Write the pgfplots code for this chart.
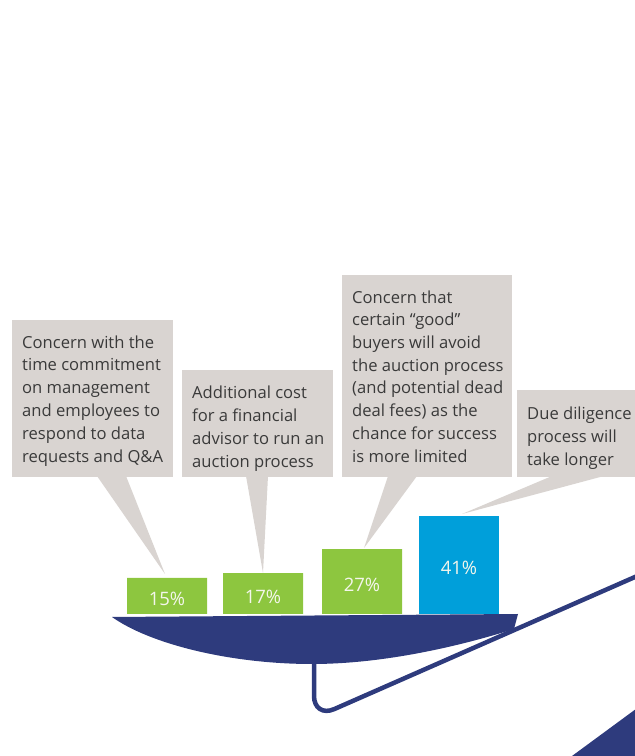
\documentclass[border=0pt]{standalone}
\usepackage{fontspec}
\setmainfont{Open Sans}
\usepackage{pgfplots}
\pgfplotsset{compat=1.18}
\usepackage{pgfplotstable}
\definecolor{boxgray}{HTML}{D9D4D1}
\definecolor{navy}{HTML}{2E3B7D}
\definecolor{dgreen}{HTML}{8DC63F}
\definecolor{dblue}{HTML}{009FDA}
\definecolor{txt}{HTML}{3A3A3A}
\definecolor{lbl}{HTML}{F4F6EC}

% bar centres (pixels across) and shares (%)
\pgfplotstableread{
x v
167 15
263 17
362 27
}\greenbars
\pgfplotstableread{
x v
459 41
}\bluebars
\pgfplotstableread{
x v
167 15
263 17
362 27
459 41
}\allbars

\newcommand\tl[3]{\node[anchor=base west, inner sep=0pt, font=\fontsize{16.6bp}{20bp}\selectfont, text=txt] at (#1,#2) {#3};}

\begin{document}
\begin{tikzpicture}
\useasboundingbox (0,0) rectangle (635bp,756bp);
% decorations: callout boxes, pointers, tray
\begin{axis}[at={(0,0)}, anchor=south west, scale only axis,
  width=635bp, height=756bp, xmin=0, xmax=635, ymin=0, ymax=756, hide axis]
\addplot[draw=none] coordinates {(0,0) (635,756)};
% boxes
\fill[boxgray] (12,279) rectangle (173,436);
\fill[boxgray] (182,279) rectangle (333,386);
\fill[boxgray] (342,279) rectangle (512,481);
\fill[boxgray] (517,279) rectangle (645,366);
% pointers
\fill[boxgray] (97,280) -- (126,280) -- (165,182) -- cycle;
\fill[boxgray] (246,280) -- (268,280) -- (263,183) -- cycle;
\fill[boxgray] (388,280) -- (417,280) -- (364,208) -- cycle;
\fill[boxgray] (552,280) -- (604,280) -- (462,242) -- cycle;
% texts
\tl{22}{407}{Concern with the}
\tl{22}{385}{time commitment}
\tl{22}{362}{on management}
\tl{22}{339}{and employees to}
\tl{22}{316}{respond to data}
\tl{22}{293}{requests and Q\&A}
\tl{192}{357}{Additional cost}
\tl{192}{334}{for a financial}
\tl{192}{311}{advisor to run an}
\tl{192}{288}{auction process}
\tl{352}{452}{Concern that}
\tl{352}{430}{certain “good”}
\tl{352}{407}{buyers will avoid}
\tl{352}{384}{the auction process}
\tl{352}{362}{(and potential dead}
\tl{352}{339}{deal fees) as the}
\tl{352}{316}{chance for success}
\tl{352}{293}{is more limited}
\tl{527}{336}{Due diligence}
\tl{527}{313}{process will}
\tl{527}{290}{take longer}
% tray and stem
\fill[navy] (112,139) -- (518,142) -- (514,127) .. controls (470,113) and (390,92) .. (312,92) .. controls (230,92) and (150,112) .. (112,139) -- cycle;
\draw[navy, line width=4.5bp, rounded corners=22bp] (314,100) -- (314,38) -- (660,190);
\fill[navy] (572,0) -- (640,50) -- (640,0) -- cycle;
\end{axis}
% bars: y in percent, 0 at the tray top, 2.4 px per percent
\begin{axis}[at={(0,0)}, anchor=south west, scale only axis,
  width=635bp, height=756bp, xmin=0, xmax=635, ymin=-59.1667, ymax=255.8333,
  hide axis, ybar, bar width=80, bar shift=0pt,
  /pgf/number format/assume math mode=true]
\addplot[fill=dgreen, draw=none] table[x=x, y=v] {\greenbars};
\addplot[fill=dblue, draw=none] table[x=x, y=v] {\bluebars};
\addplot[draw=none, fill=none, point meta=explicit,
  nodes near coords={\pgfmathprintnumber{\pgfplotspointmeta}\%},
  every node near coord/.append style={anchor=center, yshift=-3bp, text=lbl,
    font=\fontsize{18.5bp}{22bp}\selectfont}]
  table[x=x, y expr=\thisrow{v}/2, meta=v] {\allbars};
\end{axis}
\end{tikzpicture}
\end{document}
